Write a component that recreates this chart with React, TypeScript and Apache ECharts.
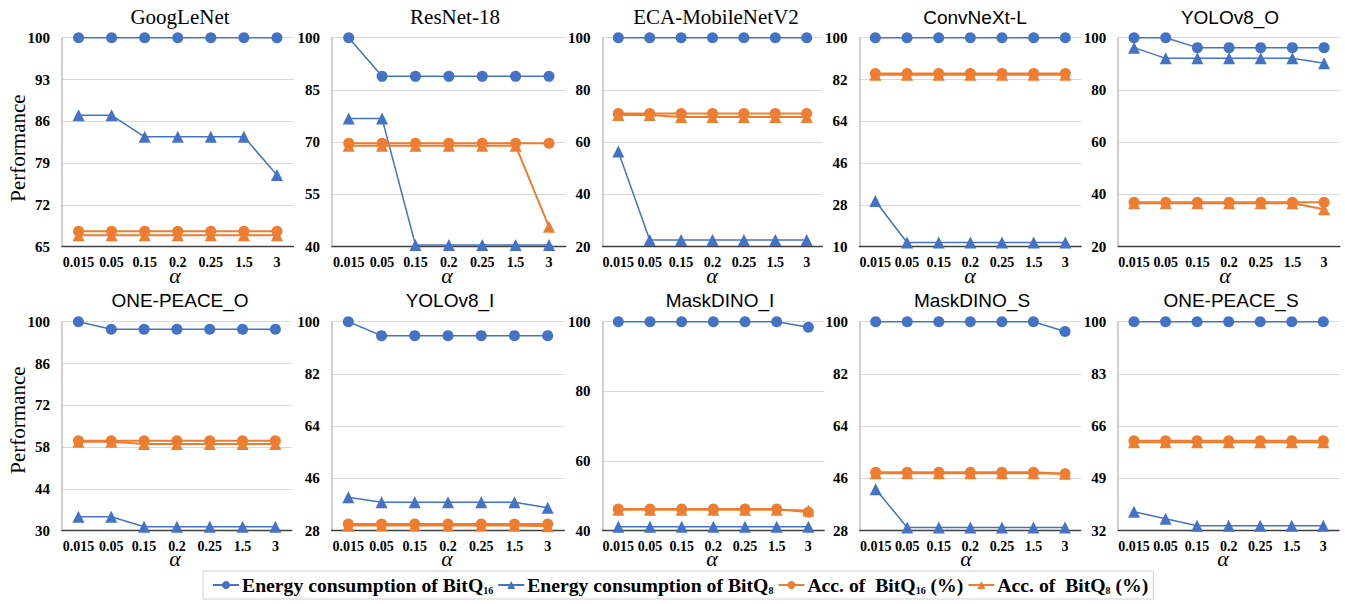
import React, { useEffect, useRef } from "react";
import * as echarts from "echarts";

// ---------- data ----------
const alphas = ["0.015", "0.05", "0.15", "0.2", "0.25", "1.5", "3"];

const panelTitles = [
  "GoogLeNet", "ResNet-18", "ECA-MobileNetV2", "ConvNeXt-L", "YOLOv8_O",
  "ONE-PEACE_O", "YOLOv8_I", "MaskDINO_I", "MaskDINO_S", "ONE-PEACE_S",
];
const titleSerif = [true, true, true, false, false, false, false, false, false, false];

const yMins = [65, 40, 20, 10, 20, 30, 28, 40, 28, 32];
const yMaxs = [100, 100, 100, 100, 100, 100, 100, 100, 100, 100];
const yIntervals = [7, 15, 20, 18, 20, 14, 18, 20, 18, 17];

// Energy consumption of BitQ16
const e16GoogLeNet = [100, 100, 100, 100, 100, 100, 100];
const e16ResNet18 = [100, 88.9, 88.9, 88.9, 88.9, 88.9, 88.9];
const e16ECA = [100, 100, 100, 100, 100, 100, 100];
const e16ConvNeXt = [100, 100, 100, 100, 100, 100, 100];
const e16YOLOO = [100, 100, 96.2, 96.2, 96.2, 96.2, 96.2];
const e16OnePeaceO = [100, 97.5, 97.5, 97.5, 97.5, 97.5, 97.5];
const e16YOLOI = [100, 95.2, 95.2, 95.2, 95.2, 95.2, 95.2];
const e16MaskDinoI = [100, 100, 100, 100, 100, 100, 98.4];
const e16MaskDinoS = [100, 100, 100, 100, 100, 100, 96.6];
const e16OnePeaceS = [100, 100, 100, 100, 100, 100, 100];

// Energy consumption of BitQ8
const e8GoogLeNet = [87.0, 87.0, 83.4, 83.4, 83.4, 83.4, 77.0];
const e8ResNet18 = [76.8, 76.8, 40.5, 40.5, 40.5, 40.5, 40.5];
const e8ECA = [56.4, 22.6, 22.6, 22.6, 22.6, 22.6, 22.6];
const e8ConvNeXt = [29.7, 11.8, 11.8, 11.8, 11.8, 11.8, 11.8];
const e8YOLOO = [96.2, 92.1, 92.1, 92.1, 92.1, 92.1, 90.2];
const e8OnePeaceO = [34.7, 34.7, 31.3, 31.3, 31.3, 31.3, 31.3];
const e8YOLOI = [39.5, 37.8, 37.8, 37.8, 37.8, 37.8, 35.9];
const e8MaskDinoI = [41.1, 41.1, 41.1, 41.1, 41.1, 41.1, 41.1];
const e8MaskDinoS = [42.3, 29.1, 29.1, 29.1, 29.1, 29.1, 29.1];
const e8OnePeaceS = [38.2, 35.9, 33.6, 33.6, 33.6, 33.6, 33.6];

// Acc. of BitQ16 (%)
const a16GoogLeNet = [67.6, 67.6, 67.6, 67.6, 67.6, 67.6, 67.6];
const a16ResNet18 = [69.7, 69.7, 69.7, 69.7, 69.7, 69.7, 69.7];
const a16ECA = [71.0, 71.0, 71.0, 71.0, 71.0, 71.0, 71.0];
const a16ConvNeXt = [84.6, 84.6, 84.6, 84.6, 84.6, 84.6, 84.6];
const a16YOLOO = [37.0, 37.0, 37.0, 37.0, 37.0, 37.0, 37.0];
const a16OnePeaceO = [60.1, 60.1, 60.1, 60.1, 60.1, 60.1, 60.1];
const a16YOLOI = [30.3, 30.3, 30.3, 30.3, 30.3, 30.3, 30.3];
const a16MaskDinoI = [46.2, 46.2, 46.2, 46.2, 46.2, 46.2, 45.3];
const a16MaskDinoS = [48.1, 48.1, 48.1, 48.1, 48.1, 48.1, 47.6];
const a16OnePeaceS = [61.3, 61.3, 61.3, 61.3, 61.3, 61.3, 61.3];

// Acc. of BitQ8 (%)
const a8GoogLeNet = [66.9, 66.9, 66.9, 66.9, 66.9, 66.9, 66.9];
const a8ResNet18 = [69.0, 69.0, 69.0, 69.0, 69.0, 69.0, 45.7];
const a8ECA = [70.4, 70.4, 69.6, 69.6, 69.6, 69.6, 69.6];
const a8ConvNeXt = [84.0, 84.0, 84.0, 84.0, 84.0, 84.0, 84.0];
const a8YOLOO = [36.6, 36.6, 36.6, 36.6, 36.6, 36.6, 34.3];
const a8OnePeaceO = [59.8, 59.8, 59.0, 59.0, 59.0, 59.0, 59.0];
const a8YOLOI = [29.8, 29.8, 29.8, 29.8, 29.8, 29.8, 29.5];
const a8MaskDinoI = [46.0, 46.0, 46.0, 46.0, 46.0, 46.0, 45.8];
const a8MaskDinoS = [47.8, 47.8, 47.8, 47.8, 47.8, 47.8, 47.6];
const a8OnePeaceS = [60.8, 60.8, 60.8, 60.8, 60.8, 60.8, 60.8];

const e16All = [e16GoogLeNet, e16ResNet18, e16ECA, e16ConvNeXt, e16YOLOO, e16OnePeaceO, e16YOLOI, e16MaskDinoI, e16MaskDinoS, e16OnePeaceS];
const e8All = [e8GoogLeNet, e8ResNet18, e8ECA, e8ConvNeXt, e8YOLOO, e8OnePeaceO, e8YOLOI, e8MaskDinoI, e8MaskDinoS, e8OnePeaceS];
const a16All = [a16GoogLeNet, a16ResNet18, a16ECA, a16ConvNeXt, a16YOLOO, a16OnePeaceO, a16YOLOI, a16MaskDinoI, a16MaskDinoS, a16OnePeaceS];
const a8All = [a8GoogLeNet, a8ResNet18, a8ECA, a8ConvNeXt, a8YOLOO, a8OnePeaceO, a8YOLOI, a8MaskDinoI, a8MaskDinoS, a8OnePeaceS];

const seriesNames = ["E16", "E8", "A16", "A8"];
const legendLabels = [
  "{m|Energy consumption of BitQ}{s|16}",
  "{m|Energy consumption of BitQ}{s|8}",
  "{m|Acc. of  BitQ}{s|16}{m| (%)}",
  "{m|Acc. of  BitQ}{s|8}{m| (%)}",
];

// ---------- layout ----------
const gridLefts = [62, 332, 602.6, 859.5, 1118.2, 62, 331.7, 602.5, 859.9, 1118.2];
const gridWidths = [231.5, 233.7, 219.8, 221.7, 221.7, 229.8, 232.6, 221.7, 220.9, 220.9];
const rowTops = [37.7, 321.7];
const plotH = 209;
const titleXs = [180, 455, 716, 975, 1230, 180, 450, 720, 972, 1231];
const titleYs = [17, 300];
const alphaXs = [175, 447, 712, 970, 1225, 175, 447, 712, 966, 1223];
const alphaYs = [275, 558];

const BLUE = "#4472C4";
const ORANGE = "#ED7D31";
const SERIF = "'Liberation Serif', 'Times New Roman', serif";
const SANS = "'Liberation Sans', Arial, sans-serif";

export default function App() {
  const ref = useRef<HTMLDivElement>(null);

  useEffect(() => {
    if (!ref.current) return;
    const chart = echarts.init(ref.current, undefined, { renderer: "svg" });

    const grids: any[] = [];
    const xAxes: any[] = [];
    const yAxes: any[] = [];
    const series: any[] = [];
    const graphics: any[] = [];

    for (let i = 0; i < 10; i++) {
      const row = i < 5 ? 0 : 1;
      grids.push({
        left: gridLefts[i],
        top: rowTops[row],
        width: gridWidths[i],
        height: plotH,
        containLabel: false,
      });
      xAxes.push({
        type: "category",
        gridIndex: i,
        data: alphas,
        boundaryGap: true,
        axisTick: { show: false },
        axisLine: { show: true, lineStyle: { color: "#404040", width: 1.3 } },
        axisLabel: {
          color: "#000",
          fontFamily: SERIF,
          fontWeight: "bold",
          fontSize: 14,
          lineHeight: 14,
          margin: 9,
          interval: 0,
        },
      });
      yAxes.push({
        type: "value",
        gridIndex: i,
        min: yMins[i],
        max: yMaxs[i],
        interval: yIntervals[i],
        axisTick: { show: false },
        axisLine: { show: true, lineStyle: { color: "#bfbfbf", width: 1.5 } },
        splitLine: { show: true, lineStyle: { color: "#d9d9d9", width: 1 } },
        axisLabel: {
          color: "#000",
          fontFamily: SERIF,
          fontWeight: "bold",
          fontSize: 15,
          margin: 12,
        },
      });
      const datas = [e16All[i], e8All[i], a16All[i], a8All[i]];
      for (let s = 0; s < 4; s++) {
        const color = s < 2 ? BLUE : ORANGE;
        series.push({
          type: "line",
          name: seriesNames[s],
          xAxisIndex: i,
          yAxisIndex: i,
          data: datas[s],
          symbol: s % 2 === 0 ? "circle" : "triangle",
          symbolSize: s % 2 === 0 ? 11 : 12,
          showAllSymbol: true,
          itemStyle: { color },
          lineStyle: { color, width: s < 2 ? 1.5 : 2 },
          emphasis: { disabled: true },
        });
      }
      graphics.push({
        type: "text",
        x: titleXs[i],
        y: titleYs[row],
        style: {
          text: panelTitles[i],
          fill: "#000",
          fontFamily: titleSerif[i] ? SERIF : SANS,
          fontSize: titleSerif[i] ? 21 : 19,
          textAlign: "center",
          textVerticalAlign: "middle",
          align: "center",
          verticalAlign: "middle",
        },
      });
      graphics.push({
        type: "text",
        x: alphaXs[i],
        y: alphaYs[row],
        style: {
          text: "α",
          fill: "#000",
          fontFamily: SERIF,
          fontStyle: "italic",
          fontSize: 22,
          lineHeight: 8,
          textAlign: "center",
          textVerticalAlign: "middle",
          align: "center",
          verticalAlign: "middle",
        },
      });
    }

    const perfYs = [148, 420];
    for (let r = 0; r < 2; r++) {
      graphics.push({
        type: "text",
        x: 18,
        y: perfYs[r],
        rotation: Math.PI / 2,
        style: {
          text: "Performance",
          fill: "#000",
          fontFamily: SERIF,
          fontSize: 21,
          textAlign: "center",
          textVerticalAlign: "middle",
          align: "center",
          verticalAlign: "middle",
        },
      });
    }

    chart.setOption({
      animation: false,
      backgroundColor: "#fff",
      grid: grids,
      xAxis: xAxes,
      yAxis: yAxes,
      series,
      graphic: graphics,
      legend: {
        data: seriesNames,
        left: 203,
        top: 571,
        orient: "horizontal",
        padding: [4, 5, 4, 9],
        itemGap: 4,
        itemWidth: 26,
        itemHeight: 10,
        borderColor: "#d0d0d0",
        borderWidth: 1,
        formatter: (name: string) => legendLabels[seriesNames.indexOf(name)],
        textStyle: {
          color: "#000",
          fontFamily: SERIF,
          fontWeight: "bold",
          fontSize: 19.7,
          padding: [0, 0, 0, -2],
          rich: {
            m: { fontFamily: SERIF, fontWeight: "bold", fontSize: 19.7, color: "#000" },
            s: { fontFamily: SERIF, fontWeight: "bold", fontSize: 10, color: "#000", verticalAlign: "bottom", padding: [8, 0, 0, 0] },
          },
        },
      },
    });

    return () => chart.dispose();
  }, []);

  return (
    <div
      ref={ref}
      style={{ position: "absolute", left: 0, top: 0, width: 1345, height: 604 }}
    />
  );
}
